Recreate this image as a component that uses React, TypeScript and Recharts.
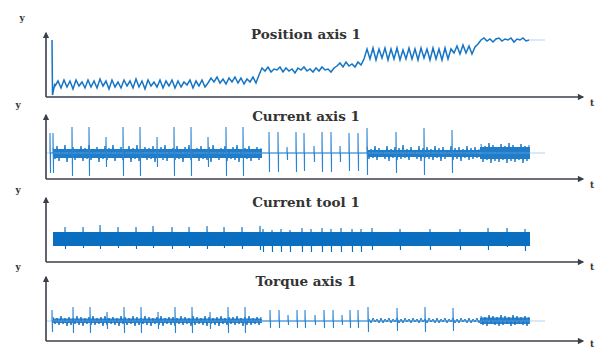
import { ComposedChart, Line, Area, XAxis, YAxis } from "recharts";

const AXIS = "#3a3f4a";
const BLUE = "#0a6fc0";
const SPIKE = "#2a84d2";
const FAINT = "#b5d3ef";

// time axis: 0..537 samples (one per px of the plot)
const T_MAX = 537;
const V_MAX = 64;

// --- Position axis 1 ---
const posLeadT = [6, 6.5, 8.5];
const posLeadV = [57, 2, 12];
const posStart = 9;
const posStep = 3;
const positionValues = [
  // slow section
  11, 16, 9, 17, 10, 16, 8, 17, 11, 15,
  9, 17, 10, 16, 9, 18, 11, 16, 8, 17,
  10, 15, 9, 17, 11, 16, 9, 18, 10, 16,
  8, 17, 11, 15, 10, 17, 9, 16, 11, 17,
  9, 16, 10, 15, 12, 17, 9, 16, 11, 17,
  10,
  14, 19, 15, 20, 14, 18, 13, 19, 15, 20, 14, 19, 13, 18, 15, 20, 14,
  22,
  // first step
  29, 26, 30, 25, 28, 27, 30, 25, 29, 26,
  28, 24, 29, 27, 30, 26, 28, 25, 29, 26,
  30, 27, 28, 25, 29,
  31, 34, 30, 35, 31, 33, 30, 35, 32,
  38,
  // second step
  48, 38, 49, 37, 48, 39, 49, 37, 48, 38,
  49, 37, 47, 38, 49, 38, 48, 37, 49, 39,
  48, 37, 49, 38, 48, 37, 49, 38, 48,
  44, 51, 43, 52, 44, 51, 43, 50,
  53,
  // last step
  57, 59, 56, 58, 55, 58, 59, 56, 58, 57, 59, 55, 58, 57, 59, 56, 57,
];
const posTailT = [483, 499];
const posTailV = [57, 57];

// --- Current axis 1 ---
const axisBase = 26;
const axisSpikeT = [4, 7, 26, 43, 60, 77, 94, 111, 128, 145, 162, 180, 197, 223, 232, 241, 250, 258, 268, 276, 285, 294, 303, 312, 321, 350, 378, 406];
const axisSpikeTop = [46, 46, 52, 52, 42, 52, 52, 42, 52, 52, 42, 52, 52, 47, 47, 32, 47, 46, 33, 47, 47, 33, 46, 46, 51, 47, 51, 49];
const axisSpikeBottom = [6, 6, 3, 3, 12, 3, 3, 12, 3, 3, 12, 3, 3, 7, 7, 19, 7, 8, 17, 7, 7, 17, 8, 8, 4, 6, 4, 6];
const axisNoiseStart = [7, 321, 435];
const axisNoise1 = [
  31, 20, 33, 18, 30, 21, 34, 17, 29, 22,
  32, 19, 30, 21, 33, 18, 31, 20, 34, 19,
  29, 22, 32, 17, 30, 20, 33, 19, 31, 21,
  34, 18, 30, 22, 32, 19, 29, 21, 33, 17,
  31, 20, 34, 18, 30, 22, 32, 19, 31, 20,
  33, 17, 29, 21, 32, 19, 34, 18, 30, 22,
  31, 19, 33, 20, 30, 17, 32, 21, 34, 19,
  29, 22, 31, 18, 33, 20, 30, 19, 32, 17,
  34, 21, 30, 19, 31, 22, 33, 18, 29, 20,
  32, 19, 34, 17, 30, 21, 31, 20, 33, 18,
  30, 22, 32, 19, 31,
];
const axisNoise2 = [
  32, 20, 30, 21, 33, 19, 31, 22, 29, 20,
  33, 18, 30, 21, 32, 19, 31, 20, 34, 21,
  30, 19, 32, 22, 29, 20, 33, 18, 31, 21,
  32, 20, 30, 19, 33, 21, 31, 18, 32, 20,
  29, 22, 33, 19, 31, 20, 32, 18, 30, 21,
  33, 19, 31, 20, 32, 21, 30,
];
const axisNoise3 = [
  35, 17, 33, 19, 36, 16, 34, 18, 32, 17, 35, 19, 33,
  16, 36, 18, 34, 17, 32, 19, 35, 16, 33, 18, 34,
];
const axisCoreStart = [7, 321, 434];
const axisCoreEnd = [216, 434, 484];
const axisCoreLow = [21, 22, 20];
const axisCoreHigh = [30, 29, 32];

// --- Current tool 1 ---
const toolBase = 23;
const toolTickT = [19, 37, 54, 72, 90, 107, 126, 143, 161, 178, 196, 214, 217, 226, 235, 244, 256, 265, 276, 285, 295, 306, 315, 326, 354, 384, 414, 442, 461, 479];
const toolTickTop = [35, 35, 37, 35, 35, 36, 35, 35, 36, 35, 35, 36, 33, 32, 33, 32, 34, 33, 34, 33, 34, 33, 33, 34, 33, 33, 33, 34, 34, 33];
const toolTickBottom = [13, 14, 13, 14, 13, 14, 13, 14, 13, 14, 13, 12, 10, 10, 10, 10, 10, 10, 10, 10, 10, 10, 10, 12, 12, 12, 12, 12, 15, 11];
const toolBandStart = [7];
const toolBandEnd = [484];
const toolBandLow = [16];
const toolBandHigh = [30];

// --- Torque axis 1 ---
const torqueBase = 20;
const torqueSpikeT = [6, 27, 44, 61, 78, 95, 112, 129, 146, 164, 182, 199, 224, 233, 242, 251, 259, 269, 278, 287, 296, 304, 312, 322, 351, 379, 407];
const torqueSpikeTop = [31, 34, 34, 29, 34, 34, 29, 34, 34, 29, 34, 34, 31, 31, 26, 31, 31, 26, 31, 31, 26, 31, 31, 34, 33, 34, 33];
const torqueSpikeBottom = [9, 8, 8, 12, 8, 8, 12, 8, 8, 12, 8, 8, 13, 13, 16, 13, 13, 16, 13, 13, 16, 13, 13, 9, 10, 9, 10];
const torqueNoiseStart = [7, 323, 435];
const torqueNoise1 = [
  24, 17, 23, 16, 25, 17, 23, 15, 24, 16,
  23, 17, 25, 16, 24, 15, 23, 17, 24, 16,
  25, 16, 23, 17, 24, 15, 25, 16, 23, 17,
  24, 16, 23, 15, 25, 17, 24, 16, 23, 17,
  25, 15, 24, 16, 23, 17, 25, 16, 24, 15,
  23, 17, 24, 16, 25, 15, 23, 17, 24, 16,
  24, 15, 23, 17, 25, 16, 24, 17, 23, 15,
  25, 16, 24, 17, 23, 16, 25, 15, 24, 17,
  23, 16, 24, 15, 25, 17, 23, 16, 24, 17,
  24, 16, 25, 17, 23, 15, 24, 16, 25, 16,
  23, 17, 24, 16, 24,
];
const torqueNoise2 = [
  22, 18, 23, 19, 22, 18, 23, 18, 22, 19,
  23, 18, 22, 19, 23, 18, 22, 18, 23, 19,
  22, 18, 23, 19, 22, 18, 23, 19, 22, 18,
  23, 19, 22, 18, 23, 18, 22, 19, 23, 18,
  22, 19, 23, 18, 22, 18, 23, 19, 22, 18,
  23, 18, 22, 19, 23, 18, 22,
];
const torqueNoise3 = [
  25, 16, 24, 15, 26, 17, 25, 16, 24, 15, 26, 16, 25,
  17, 24, 15, 26, 16, 25, 17, 24, 16, 25, 15, 24,
];
const torqueCoreStart = [7, 434];
const torqueCoreEnd = [216, 484];
const torqueCoreLow = [18, 17];
const torqueCoreHigh = [22.5, 23.5];

type Pt = { t: number; v: number };

function spikeLine(t0: number, t1: number, base: number, ts: number[], tops: number[], bottoms: number[]): Pt[] {
  const pts: Pt[] = [{ t: t0, v: base }];
  ts.forEach((t, i) => {
    pts.push({ t, v: base }, { t, v: tops[i] }, { t: t + 0.5, v: bottoms[i] }, { t: t + 0.5, v: base });
  });
  pts.push({ t: t1, v: base });
  return pts;
}

function bands(starts: number[], ends: number[], lows: number[], highs: number[]) {
  return starts.map((s, i) => [
    { t: s, range: [lows[i], highs[i]] },
    { t: ends[i], range: [lows[i], highs[i]] },
  ]);
}

const sampled = (start: number, step: number, values: number[]): Pt[] =>
  values.map((v, i) => ({ t: start + i * step, v }));

const positionData: Pt[] = [
  ...posLeadT.map((t, i) => ({ t, v: posLeadV[i] })),
  ...sampled(posStart, posStep, positionValues),
];
const positionTail = posTailT.map((t, i) => ({ t, v: posTailV[i] }));

const axisLine = spikeLine(4, 484, axisBase, axisSpikeT, axisSpikeTop, axisSpikeBottom);
const axisNoise = [axisNoise1, axisNoise2, axisNoise3].map((vals, i) => sampled(axisNoiseStart[i], 2, vals));
const axisCore = bands(axisCoreStart, axisCoreEnd, axisCoreLow, axisCoreHigh);
const toolLine = spikeLine(7, 484, toolBase, toolTickT, toolTickTop, toolTickBottom);
const toolBand = bands(toolBandStart, toolBandEnd, toolBandLow, toolBandHigh);
const torqueLine = spikeLine(6, 484, torqueBase, torqueSpikeT, torqueSpikeTop, torqueSpikeBottom);
const torqueNoise = [torqueNoise1, torqueNoise2, torqueNoise3].map((vals, i) => sampled(torqueNoiseStart[i], 2, vals));
const torqueCore = bands(torqueCoreStart, torqueCoreEnd, torqueCoreLow, torqueCoreHigh);

const serif = "'DejaVu Serif', serif";

function Panel({ top, children }: { top: number; children: React.ReactNode }) {
  return (
    <div style={{ position: "absolute", left: 0, top: top - 6 }}>
      <ComposedChart width={596} height={73} margin={{ top: 6, right: 13, bottom: 2, left: 45 }}>
        <XAxis
          type="number"
          dataKey="t"
          domain={[0, T_MAX]}
          allowDataOverflow
          tick={false}
          tickLine={false}
          height={1}
          axisLine={{ stroke: AXIS, strokeWidth: 1.6, markerEnd: "url(#arrowHead)" }}
        />
        <YAxis
          type="number"
          domain={[0, V_MAX]}
          allowDataOverflow
          tick={false}
          tickLine={false}
          width={1}
          axisLine={{ stroke: AXIS, strokeWidth: 1.6, markerStart: "url(#arrowHead)" }}
        />
        {children}
      </ComposedChart>
    </div>
  );
}

function Label({ x, y, text, size }: { x: number; y: number; text: string; size: number }) {
  return (
    <div
      style={{
        position: "absolute",
        left: x,
        top: y,
        transform: "translate(-50%, -50%)",
        fontFamily: serif,
        fontWeight: 700,
        fontSize: size,
        color: "#333",
        whiteSpace: "nowrap",
        lineHeight: 1,
      }}
    >
      {text}
    </div>
  );
}

const titles = ["Position axis 1", "Current axis 1", "Current tool 1", "Torque axis 1"];
const titleY = [35, 117, 203, 282];
const yLabelPos = [[22, 18], [18, 105], [18, 190], [18, 267]];
const tLabelY = [103, 185, 267, 344];

export default function App() {
  return (
    <div style={{ position: "absolute", left: 0, top: 0, width: 596, height: 350, background: "#fff", overflow: "hidden" }}>
      <svg width={0} height={0} style={{ position: "absolute" }}>
        <defs>
          <marker id="arrowHead" viewBox="0 0 10 10" refX={8} refY={5} markerWidth={4.5} markerHeight={4} orient="auto-start-reverse">
            <path d="M0,0 L10,5 L0,10 z" fill={AXIS} />
          </marker>
        </defs>
      </svg>

      <Panel top={33}>
        <Line data={positionTail} dataKey="v" stroke={FAINT} strokeWidth={1} dot={false} isAnimationActive={false} />
        <Line data={positionData} dataKey="v" stroke="#1474c6" strokeWidth={1.5} dot={false} isAnimationActive={false} />
      </Panel>

      <Panel top={115}>
        <Line data={[{ t: 0, v: axisBase }, { t: 499, v: axisBase }]} dataKey="v" stroke={FAINT} strokeWidth={1} dot={false} isAnimationActive={false} />
        {axisNoise.map((d, i) => (
          <Line key={"n" + i} data={d} dataKey="v" stroke="#1f7dcc" strokeWidth={1} dot={false} isAnimationActive={false} />
        ))}
        {axisCore.map((d, i) => (
          <Area key={"c" + i} data={d} dataKey="range" stroke="none" fill={BLUE} fillOpacity={0.9} isAnimationActive={false} />
        ))}
        <Line data={axisLine} dataKey="v" stroke={SPIKE} strokeWidth={1.1} dot={false} isAnimationActive={false} />
      </Panel>

      <Panel top={198}>
        {toolBand.map((d, i) => (
          <Area key={i} data={d} dataKey="range" stroke="none" fill={BLUE} fillOpacity={1} isAnimationActive={false} />
        ))}
        <Line data={toolLine} dataKey="v" stroke={BLUE} strokeWidth={1.1} dot={false} isAnimationActive={false} />
      </Panel>

      <Panel top={277}>
        <Line data={[{ t: 0, v: torqueBase }, { t: 499, v: torqueBase }]} dataKey="v" stroke={FAINT} strokeWidth={1} dot={false} isAnimationActive={false} />
        {torqueNoise.map((d, i) => (
          <Line key={"n" + i} data={d} dataKey="v" stroke="#1a78c8" strokeWidth={1} dot={false} isAnimationActive={false} />
        ))}
        {torqueCore.map((d, i) => (
          <Area key={"c" + i} data={d} dataKey="range" stroke="none" fill={BLUE} fillOpacity={0.85} isAnimationActive={false} />
        ))}
        <Line data={torqueLine} dataKey="v" stroke={SPIKE} strokeWidth={1.1} dot={false} isAnimationActive={false} />
      </Panel>

      {titles.map((t, i) => (
        <Label key={t} x={306} y={titleY[i]} text={t} size={13.5} />
      ))}
      {yLabelPos.map(([x, y], i) => (
        <Label key={"y" + i} x={x} y={y} text="y" size={9} />
      ))}
      {tLabelY.map((y, i) => (
        <Label key={"t" + i} x={592} y={y} text="t" size={9} />
      ))}
    </div>
  );
}
